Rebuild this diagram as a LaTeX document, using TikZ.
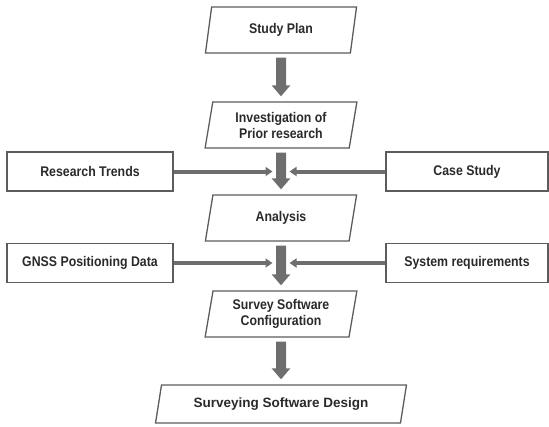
\documentclass[tikz,border=0pt]{standalone}
\usepackage{fontspec}
\setmainfont{Liberation Sans}[FakeStretch=0.88]
\newfontfamily\widefont{Liberation Sans}
\usepackage{tikz}
\usetikzlibrary{
	arrows.meta,
	positioning,
	shapes.geometric
}
\usepackage{xcolor}
\definecolor{boxgray}{HTML}{5C5C5C}
\definecolor{arrowgray}{HTML}{6E6E6E}
\definecolor{textgray}{HTML}{2A2A2A}

\begin{document}
\begin{tikzpicture}[x=1pt,y=-1pt,
		font=\bfseries\fontsize{14}{16}\selectfont,
		stepbox/.style={trapezium,trapezium left angle=80,trapezium right angle=100,
			trapezium stretches=true,draw=boxgray,line width=1.3pt,text=textgray,
			minimum width=152pt,minimum height=46pt,inner sep=2pt,align=center},
		sidebox/.style={rectangle,draw=boxgray,line width=1.3pt,text=textgray,
			minimum width=166pt,minimum height=39pt,inner sep=2pt},
		mainarrow/.style={draw=arrowgray,fill=arrowgray,line width=10pt,
			-{Triangle[width=18pt,length=11pt]},shorten <=4pt,shorten >=5pt},
		sidearrow/.style={draw=arrowgray,fill=arrowgray,line width=4pt,
			-{Triangle[width=9pt,length=7pt]}}]
		
		\useasboundingbox (0,0) rectangle (549,426);
		
		% main steps
		\node[stepbox] (plan) at (281,30) {Study Plan};
		\node[stepbox] (prior) at (281,125) {Investigation of\\Prior research};
		\node[stepbox] (analysis) at (281,218) {Analysis};
		\node[stepbox] (config) at (281,314) {Survey Software\\Configuration};
		\node[stepbox,minimum width=251pt,minimum height=38pt,
			trapezium left angle=75,trapezium right angle=105,
			font=\widefont\bfseries\fontsize{13.5}{16}\selectfont] (design) at (281,404) {Surveying Software Design};
		
		\draw[mainarrow] (plan) -- (prior);
		\draw[mainarrow] (prior) -- (analysis);
		\draw[mainarrow] (analysis) -- (config);
		\draw[mainarrow] (config) -- (design);
		
		% inputs
		\node[sidebox] (trends) at (90,171.5) {Research Trends};
		\node[sidebox,minimum width=162pt] (case) at (467,171.5) {Case Study};
		\node[sidebox] (gnss) at (90,263) {GNSS Positioning Data};
		\node[sidebox,minimum width=162pt] (sysreq) at (467,263) {System requirements};
		
		\coordinate (join1) at (281,171.5);
		\coordinate (join2) at (281,263);
		
		\draw[sidearrow] (trends) -- ([xshift=-8.5pt]join1);
		\draw[sidearrow] (case) -- ([xshift=8.5pt]join1);
		\draw[sidearrow] (gnss) -- ([xshift=-8.5pt]join2);
		\draw[sidearrow] (sysreq) -- ([xshift=8.5pt]join2);
		
\end{tikzpicture}
\end{document}
